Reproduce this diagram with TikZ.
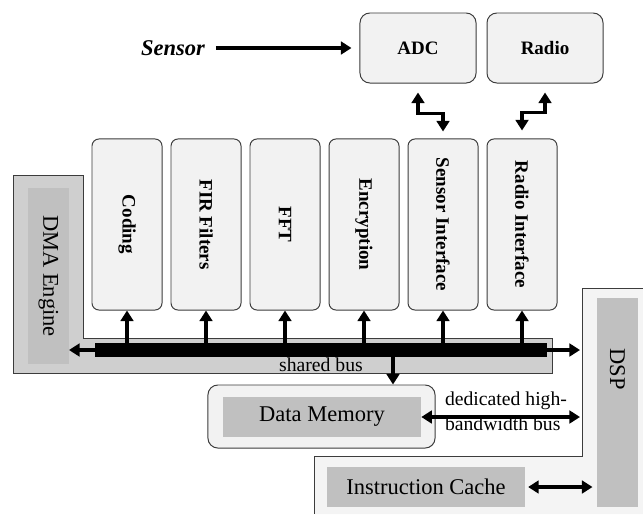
\documentclass[tikz,border=0pt]{standalone}
\usepackage{fontspec}
\setmainfont{Liberation Serif}
\usetikzlibrary{arrows.meta, positioning}
\definecolor{boxfill}{RGB}{242,242,242}
\definecolor{boxline}{RGB}{60,60,60}
\definecolor{dmagray}{RGB}{207,207,207}
\definecolor{unitgray}{RGB}{192,192,192}
\definecolor{dspfill}{RGB}{244,244,244}

\begin{document}
\begin{tikzpicture}[x=0.025cm,y=-0.025cm,
        module/.style={draw=boxline,fill=boxfill,line width=0.7pt,rounded corners=5pt,
                       minimum width=1.75cm,minimum height=4.275cm,inner sep=0pt,
                       font=\bfseries\fontsize{13.5}{16}\selectfont},
        periph/.style={module,minimum width=2.9cm,minimum height=1.75cm,rounded corners=7pt},
        unit/.style={fill=unitgray,inner sep=0pt,font=\fontsize{16}{19}\selectfont},
        sig/.style={line width=2.6pt,-{Triangle[length=7.5pt,width=9pt]}},
        bisig/.style={line width=2.6pt,{Triangle[length=7.5pt,width=9pt]}-{Triangle[length=7.5pt,width=9pt]}},
        node distance=0.2cm]
      \useasboundingbox (0,0) rectangle (643,514);
      % DSP and DMA frames
      \fill[dspfill] (582,288) -- (643,288) -- (643,514) -- (314,514) -- (314,456) -- (582,456) -- cycle;
      \draw[boxline,line width=0.7pt] (643,288) -- (582,288) -- (582,456) -- (314,456) -- (314,514);
      \draw[boxline,line width=0.7pt,fill=dmagray]
        (13,175) -- (83,175) -- (83,338) -- (552,338) -- (552,373) -- (13,373) -- cycle;
      \node[unit,minimum width=1.025cm,minimum height=4.4cm] (dma) at (48.5,276)
        {\rotatebox{-90}{DMA Engine}};
      \node[unit,minimum width=1.025cm,minimum height=5.225cm] (dsp) at (617.5,402.5) {};
      \node[font=\fontsize{16}{19}\selectfont] (dsplabel) at (617.5,369) {\rotatebox{-90}{DSP}};
      \node[unit,minimum width=4.95cm,minimum height=1cm] (icache) at (426,487)
        {Instruction Cache};
      \node[draw=boxline,fill=boxfill,line width=0.7pt,rounded corners=7pt,
            minimum width=5.675cm,minimum height=1.575cm] (dmemframe) at (321.5,416.5) {};
      \node[unit,minimum width=4.95cm,minimum height=1cm] (dmem) at (322,417) {Data Memory};
      % accelerators
      \node[module] (coding) at (127,224.5) {\rotatebox{-90}{Coding}};
      \node[module,right=of coding] (fir) {\rotatebox{-90}{FIR Filters}};
      \node[module,right=of fir] (fft) {\rotatebox{-90}{FFT}};
      \node[module,right=of fft] (crypt) {\rotatebox{-90}{Encryption}};
      \node[module,right=of crypt] (sif) {\rotatebox{-90}{Sensor Interface}};
      \node[module,right=of sif] (rif) {\rotatebox{-90}{Radio Interface}};
      % peripherals
      \node[periph] (adc) at (418,48) {ADC};
      \node[periph,right=0.25cm of adc] (radio) {Radio};
      \node[font=\bfseries\itshape\fontsize{16}{19}\selectfont] (sensor) at (173,48) {Sensor};
      \draw[sig,shorten <=0.15cm,shorten >=0.2cm] (sensor.east) -- (adc.west);
      \draw[bisig] ([yshift=-0.225cm]adc.south) -- ++(0,21) -| ([yshift=0.175cm]sif.north);
      \draw[bisig] ([yshift=0.2cm]rif.north) -- ++(0,-18) -| ([yshift=-0.225cm]radio.south);
      % shared bus
      \coordinate (busL) at (95,350);
      \coordinate (busR) at (547,350);
      \coordinate (dmaport) at (69,350);
      \coordinate (dspport) at (580,350);
      \coordinate (memtap) at (393,350);
      \draw[line width=9.5pt] (busL) -- (busR);
      \draw[sig] (busL) -- (dmaport);
      \draw[sig] (busR) -- (dspport);
      \foreach \m in {coding,fir,fft,crypt,sif,rif}
        \draw[sig] (\m.south |- busL) -- (\m.south);
      \draw[sig] (memtap) -- (memtap |- dmemframe.north);
      \node[font=\fontsize{14}{16}\selectfont,inner sep=0pt] (buslabel) at (321,365) {shared bus};
      % memory links
      \draw[bisig] (dmem.east) -- (dmem.east -| dspport);
      \node[font=\fontsize{14}{18}\selectfont,align=left,inner sep=0pt] (hbw) at (506,411)
        {dedicated high-\\bandwidth bus};
      \draw[bisig,shorten <=2pt,shorten >=3pt] (icache.east) -- (icache.east -| dsp.west);
    \end{tikzpicture}
\end{document}
